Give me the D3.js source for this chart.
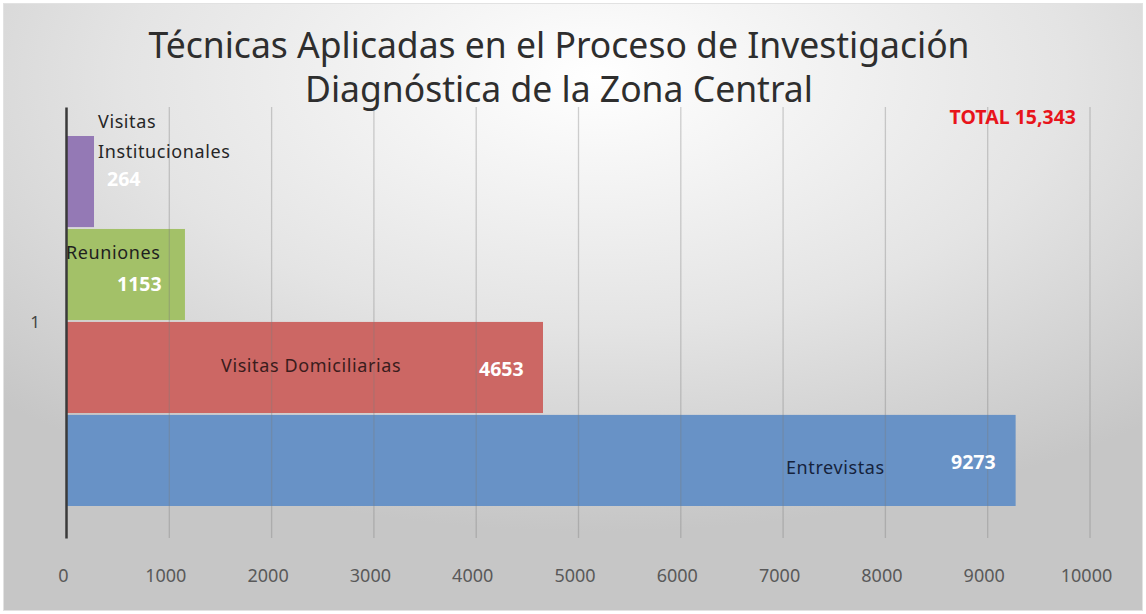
<!DOCTYPE html>
<html>
<head>
<meta charset="utf-8">
<script src="https://cdn.jsdelivr.net/npm/d3@7"></script>
<style>
  html, body { margin: 0; padding: 0; background: #fff; }
  svg { display: block; font-family: "Noto Sans", sans-serif; }
</style>
</head>
<body>
<div id="chart"></div>
<script>
// chart values
var categories = ['1'];
var series_names = ['Visitas Institucionales', 'Reuniones', 'Visitas Domiciliarias', 'Entrevistas'];
var series_values = [264, 1153, 4653, 9273];
var series_colors = ['#9479b5', '#a3c168', '#cc6764', '#6892c6'];
var x_ticks = [0, 1000, 2000, 3000, 4000, 5000, 6000, 7000, 8000, 9000, 10000];
var title_lines = ['Técnicas Aplicadas en el Proceso de Investigación', 'Diagnóstica de la Zona Central'];
var total_label = 'TOTAL 15,343';

function draw_chart() {
    var width = 1146, height = 614;
    var plot = {left: 67, right: 1090, top: 107, bottom: 538};

    var svg = d3.select('#chart')
        .append('svg')
        .attr('width', width)
        .attr('height', height);

    // background gradient
    var defs = svg.append('defs');
    var grad = defs.append('radialGradient')
        .attr('id', 'bg_grad')
        .attr('cx', '52%').attr('cy', '12%')
        .attr('r', '75%');
    grad.append('stop').attr('offset', '0%').attr('stop-color', '#ffffff');
    grad.append('stop').attr('offset', '55%').attr('stop-color', '#e4e4e4');
    grad.append('stop').attr('offset', '100%').attr('stop-color', '#c6c6c6');

    svg.append('rect')
        .attr('x', 3.5).attr('y', 3.5)
        .attr('width', width - 7).attr('height', height - 7)
        .attr('fill', 'url(#bg_grad)')
        .attr('stroke', '#e2e2e2')
        .attr('stroke-width', 1);

    var x = d3.scaleLinear()
        .domain([0, 10000])
        .range([plot.left, plot.right]);

    var y_outer = d3.scaleBand()
        .domain(categories)
        .range([plot.top, plot.bottom]);

    var y = d3.scaleBand()
        .domain(series_names)
        .range([y_outer('1') + 29, y_outer('1') + y_outer.bandwidth() - 32])
        .paddingInner(0.02);

    // bars
    svg.append('g')
        .selectAll('rect')
        .data(series_names)
        .enter()
        .append('rect')
        .attr('x', x(0))
        .attr('y', d => y(d))
        .attr('width', (d, i) => x(series_values[i]) - x(0))
        .attr('height', y.bandwidth())
        .attr('fill', (d, i) => series_colors[i]);

    // vertical gridlines (drawn over the bars, faint)
    svg.append('g')
        .selectAll('line')
        .data(x_ticks.slice(1))
        .enter()
        .append('line')
        .attr('x1', d => x(d)).attr('x2', d => x(d))
        .attr('y1', plot.top).attr('y2', plot.bottom)
        .attr('stroke', '#7a7a7a')
        .attr('stroke-opacity', 0.35)
        .attr('stroke-width', 1.3);

    // x axis tick labels
    var x_axis = d3.axisBottom(x)
        .tickValues(x_ticks)
        .tickSize(0)
        .tickPadding(0)
        .tickFormat(d3.format('d'));

    var xa = svg.append('g')
        .attr('transform', `translate(-4, 582)`)
        .call(x_axis);
    xa.select('.domain').remove();
    xa.selectAll('text')
        .attr('dy', 0)
        .style('font-family', '"Noto Sans", sans-serif')
        .style('font-size', '18px')
        .attr('fill', '#595959');

    // y axis
    var y_axis = d3.axisLeft(y_outer).tickSize(0).tickPadding(26);
    var ya = svg.append('g')
        .attr('transform', `translate(${plot.left - 1}, 0)`)
        .call(y_axis);
    ya.select('.domain')
        .attr('stroke', '#3a3a3a')
        .attr('stroke-width', 2.5);
    ya.selectAll('text')
        .style('font-family', '"Noto Sans", sans-serif')
        .style('font-size', '17px')
        .attr('fill', '#444');

    // data labels: name and value per bar
    var label_layout = {
        'Visitas Institucionales': {lines: ['Visitas', 'Institucionales'], nx: 31, ny: [-8, 22], vx: 40, vy: 50, name_color: '#262626'},
        'Reuniones': {lines: ['Reuniones'], nx: -1, ny: [30], vx: 50, vy: 62, name_color: '#1f1f1f'},
        'Visitas Domiciliarias': {lines: ['Visitas Domiciliarias'], nx: 154, ny: [50], vx: 412, vy: 54, name_color: '#3a1c1c'},
        'Entrevistas': {lines: ['Entrevistas'], nx: 719, ny: [59], vx: 884, vy: 54, name_color: '#15233d'}
    };

    var labels = svg.append('g');
    series_names.forEach(function(name, i) {
        var lay = label_layout[name];
        lay.lines.forEach(function(line, j) {
            labels.append('text')
                .attr('x', x(0) + lay.nx)
                .attr('y', y(name) + lay.ny[j])
                .attr('fill', lay.name_color)
                .style('font-size', '18px')
                .style('letter-spacing', '0.6px')
                .text(line);
        });
        labels.append('text')
            .attr('x', x(0) + lay.vx)
            .attr('y', y(name) + lay.vy)
            .attr('fill', '#ffffff')
            .style('font-size', '19.5px')
            .style('font-weight', 700)
            .text(d3.format('d')(series_values[i]));
    });

    // title
    svg.append('g')
        .selectAll('text')
        .data(title_lines)
        .enter()
        .append('text')
        .attr('x', 559)
        .attr('y', (d, i) => 58 + i * 44)
        .attr('text-anchor', 'middle')
        .attr('fill', '#2e2e2e')
        .style('font-size', '35.5px')
        .text(d => d);

    // total
    svg.append('text')
        .attr('x', 1076)
        .attr('y', 124)
        .attr('text-anchor', 'end')
        .attr('fill', '#e8141b')
        .style('font-size', '19.5px')
        .style('font-weight', 700)
        .text(total_label);
}

draw_chart();
</script>
</body>
</html>
